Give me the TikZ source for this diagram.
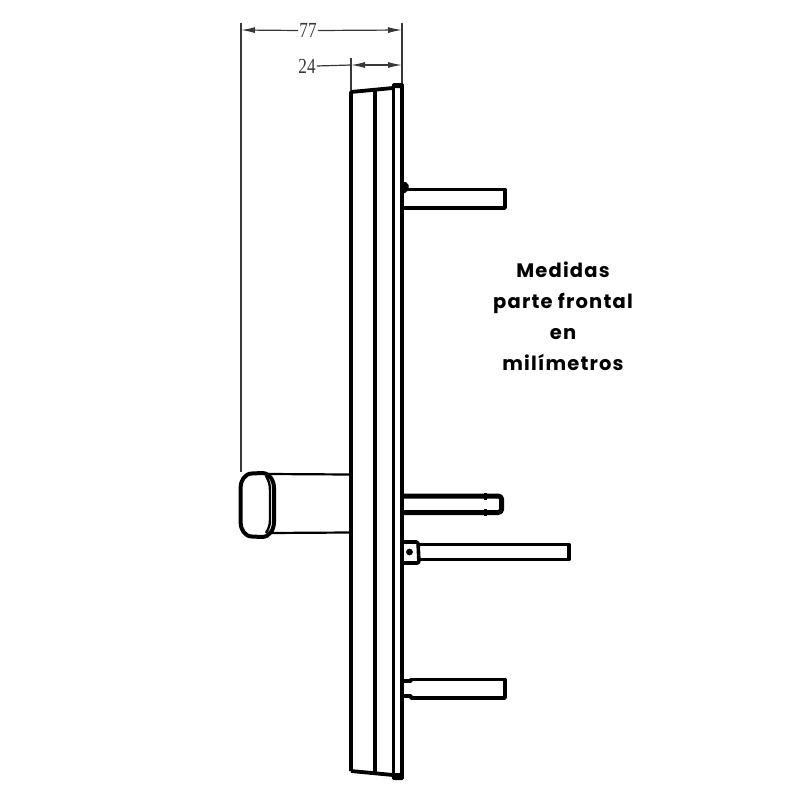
\documentclass[tikz,border=0pt]{standalone}
\usepackage{fontspec}
\setmainfont[LetterSpace=6]{Poppins}
\newfontfamily\dimfont[FakeStretch=0.8]{Liberation Serif}
\usetikzlibrary{arrows.meta}
\definecolor{dimgray}{gray}{0.22}
\tikzset{
  part/.style={draw=black,line width=3.6pt,line join=round},
  thin part/.style={draw=black,line width=2.2pt,line join=round},
  dimline/.style={draw=dimgray,fill=black,line width=1.2pt},
  dimtext/.style={font=\dimfont\fontsize{21.5}{21.5}\selectfont,text=dimgray,inner sep=1pt},
  note/.style={font=\fontsize{19.5}{21}\selectfont\bfseries,inner sep=0pt,anchor=base}
}
\begin{document}
\begin{tikzpicture}[x=1pt,y=-1pt]
\useasboundingbox (0,0) rectangle (800,800);
% extension lines
\coordinate (l77a) at (241,23); \coordinate (l77b) at (241,472);
\coordinate (r77a) at (402,23); \coordinate (r77b) at (402,84);
\coordinate (l24a) at (351,58); \coordinate (l24b) at (351,90);
\draw[dimline] (l77a) -- (l77b);
\draw[dimline] (r77a) -- (r77b);
\draw[dimline] (l24a) -- (l24b);
% dimension 77
\node[dimtext] (t77) at (308,30.5) {77};
\coordinate (a77) at (241,30); \coordinate (b77) at (402,30);
\draw[dimline,{Latex[length=14pt,width=6pt]}-] (a77) -- (t77.west);
\draw[dimline,-{Latex[length=14pt,width=6pt]}] (t77.east) -- (b77);
% dimension 24
\node[dimtext] (t24) at (307,66) {24};
\coordinate (a24) at (351,65); \coordinate (b24) at (402,65);
\draw[dimline] (t24.east) -- (a24);
\draw[dimline,{Latex[length=14pt,width=6pt]}-{Latex[length=14pt,width=6pt]}] (a24) -- (b24);
% body
\draw[part,line width=3.8pt] (351,771) -- (351,92) -- (393,88);
\draw[part,line width=3.8pt] (351,771) -- (393,775);
\draw[part,line width=3.8pt] (375,90) -- (375,773);
\draw[part] (393.5,88) -- (393.5,776);
\draw[part] (402,85) -- (402,778);
\fill[black,rounded corners=1.5pt] (392,83) rectangle (403.8,88);
\fill[black,rounded corners=1.5pt] (392,773) rectangle (403.8,780);
% top peg
\fill[black] (403,182) -- (406,182) -- (408.5,185) -- (408.5,190) -- (405,193) -- (403,193) -- cycle;
\draw[part] (404,189.5) -- (505,189.5) -- (505,208) -- (404,208);
% second peg
\draw[part,line width=5pt,line cap=round] (403,496) -- (498,496) to[out=0,in=90] (501.5,499) -- (501.5,509.5) to[out=-90,in=0] (498,512.5) -- (403,512.5);
\fill[black] (484,493) rectangle (487,500);
\fill[black] (484,509) rectangle (487,516);
% third peg
\draw[part,rounded corners=1.5pt] (403,542) -- (418,542) -- (419,563) -- (403,563);
\draw[part] (419,544.5) -- (569,544.5) -- (569,559.5) -- (419,559.5);
\fill[black] (409.5,552) circle (3.4pt);
% fourth peg
\draw[part] (403,681) -- (411,681) -- (411,679.5) -- (505,679.5) -- (505,698) -- (411,698) -- (411,696) -- (403,696);
% handle
\draw[part,line width=4pt] (252,473.5) -- (262,473) to[out=0,in=90] (274,488) -- (274,522) to[out=-90,in=0] (262,537) -- (252,536.5) to[out=180,in=-90] (240.5,522) -- (240.5,488) to[out=90,in=180] cycle;
\draw[thin part,line width=2.4pt] (266,476) to[out=-60,in=90] (270,490) -- (270,520) to[out=-90,in=60] (266,533);
\draw[thin part] (268,474) -- (350,474.5);
\draw[thin part] (268,533) -- (350,532.5);
% caption
\node[note] (c1) at (563,277) {Medidas};
\node[note] (c2) at (563,308) {parte frontal};
\node[note] (c3) at (563,339) {en};
\node[note] (c4) at (563,370) {milímetros};
\end{tikzpicture}
\end{document}
